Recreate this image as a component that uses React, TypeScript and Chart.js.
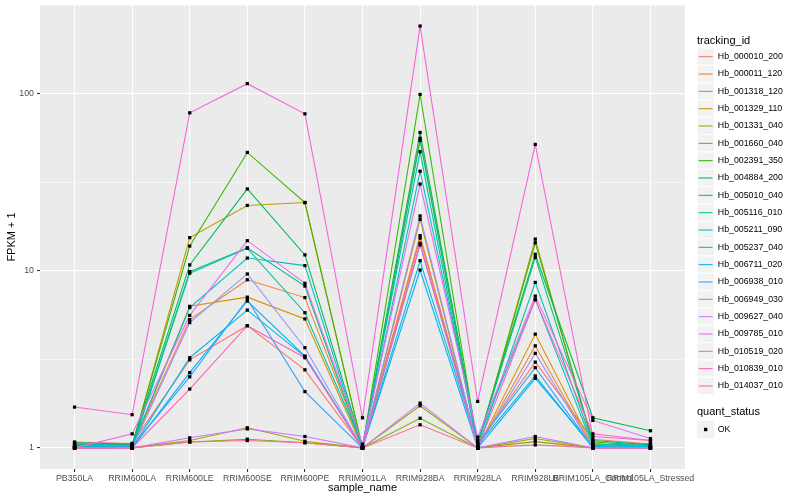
import React, { useEffect, useRef } from "react";
import { Chart, registerables } from "chart.js";

Chart.register(...registerables);

const CATEGORIES = [
  "PB350LA", "RRIM600LA", "RRIM600LE", "RRIM600SE", "RRIM600PE", "RRIM901LA",
  "RRIM928BA", "RRIM928LA", "RRIM928LB", "RRIM105LA_Control", "RRIM105LA_Stressed",
];

const Y_TICKS = [1, 10, 100];
const Y_MINOR = [3.1623, 31.623, 316.23];

const SERIES_NAMES = [
  "Hb_000010_200", "Hb_000011_120", "Hb_001318_120", "Hb_001329_110", "Hb_001331_040",
  "Hb_001660_040", "Hb_002391_350", "Hb_004884_200", "Hb_005010_040", "Hb_005116_010",
  "Hb_005211_090", "Hb_005237_040", "Hb_006711_020", "Hb_006938_010", "Hb_006949_030",
  "Hb_009627_040", "Hb_009785_010", "Hb_010519_020", "Hb_010839_010", "Hb_014037_010",
];

const SERIES_COLORS = [
  "#F8766D", "#EA8331", "#D89000", "#C09B00", "#A3A500", "#7CAE00", "#39B600", "#00BB4E",
  "#00BF7D", "#00C1A3", "#00BFC4", "#00BAE0", "#00B0F6", "#35A2FF", "#9590FF", "#C77CFF",
  "#E76BF3", "#FA62DB", "#FF62BC", "#FF6C91",
];

// FPKM + 1 values per sample, in CATEGORIES order
const HB_000010_200 = [1.08, 1.06, 3.14, 4.9, 2.76, 1.0, 15.3, 1.05, 3.05, 1.12, 1.05];
const HB_000011_120 = [1.02, 1.03, 5.3, 8.9, 7.06, 1.02, 15.8, 1.0, 3.77, 1.0, 1.0];
const HB_001318_120 = [1.0, 1.0, 6.3, 7.1, 5.35, 1.0, 19.5, 1.0, 4.39, 1.02, 1.0];
const HB_001329_110 = [1.0, 1.02, 15.4, 23.4, 24.3, 1.0, 56, 1.02, 15.1, 1.05, 1.02];
const HB_001331_040 = [1.0, 1.0, 1.1, 1.3, 1.09, 1.0, 1.73, 1.0, 1.13, 1.0, 1.0];
const HB_001660_040 = [1.0, 1.0, 1.08, 1.12, 1.07, 1.0, 1.47, 1.0, 1.085, 1.0, 1.0];
const HB_002391_350 = [1.05, 1.04, 13.8, 46.6, 24.3, 1.0, 99, 1.03, 14.4, 1.08, 1.03];
const HB_004884_200 = [1.07, 1.05, 10.8, 29, 12.3, 1.02, 60.4, 1.08, 12.4, 1.48, 1.25];
const HB_005010_040 = [1.03, 1.02, 9.9, 13.5, 8.2, 1.0, 54.4, 1.05, 11.9, 1.1, 1.04];
const HB_005116_010 = [1.04, 1.0, 9.7, 13.4, 5.8, 1.03, 47, 1.0, 8.6, 1.06, 1.0];
const HB_005211_090 = [1.06, 1.03, 6.2, 11.8, 10.7, 1.0, 36.5, 1.1, 6.9, 1.03, 1.06];
const HB_005237_040 = [1.02, 1.0, 3.23, 6.0, 3.28, 1.0, 11.4, 1.04, 2.55, 1.0, 1.02];
const HB_006711_020 = [1.0, 1.0, 2.66, 6.75, 3.3, 1.0, 10.1, 1.0, 2.47, 1.02, 1.0];
const HB_006938_010 = [1.0, 1.02, 2.52, 6.9, 2.08, 1.0, 14.0, 1.06, 2.84, 1.0, 1.0];
const HB_006949_030 = [1.0, 1.0, 5.1, 9.6, 3.68, 1.0, 20.4, 1.0, 3.42, 1.0, 1.0];
const HB_009627_040 = [1.0, 1.0, 1.14, 1.28, 1.16, 1.0, 1.79, 1.0, 1.16, 1.0, 1.0];
const HB_009785_010 = [1.0, 1.2, 5.6, 14.8, 8.5, 1.05, 30.9, 1.15, 7.2, 1.43, 1.13];
const HB_010519_020 = [1.7, 1.54, 78, 114, 77, 1.48, 241, 1.83, 51.7, 1.16, 1.1];
const HB_010839_010 = [1.0, 1.0, 2.15, 4.9, 3.23, 1.0, 14.3, 1.0, 6.85, 1.2, 1.1];
const HB_014037_010 = [1.0, 1.0, 1.08, 1.1, 1.07, 1.0, 1.35, 1.0, 1.04, 1.0, 1.0];

const SERIES_VALUES = [
  HB_000010_200, HB_000011_120, HB_001318_120, HB_001329_110, HB_001331_040,
  HB_001660_040, HB_002391_350, HB_004884_200, HB_005010_040, HB_005116_010,
  HB_005211_090, HB_005237_040, HB_006711_020, HB_006938_010, HB_006949_030,
  HB_009627_040, HB_009785_010, HB_010519_020, HB_010839_010, HB_014037_010,
];

const QUANT_STATUS = ["OK"];

const FONT = '"Liberation Sans", Arial, Helvetica, sans-serif';

const decorPlugin = {
  id: "decor",
  beforeDraw(chart: any) {
    const { ctx, chartArea: a } = chart;
    ctx.save();
    ctx.fillStyle = "#FFFFFF";
    ctx.fillRect(0, 0, chart.width, chart.height);
    ctx.fillStyle = "#EBEBEB";
    ctx.fillRect(a.left, a.top, a.right - a.left, a.bottom - a.top);
    ctx.restore();
  },
  afterDraw(chart: any) {
    const { ctx, chartArea: a } = chart;
    ctx.save();
    ctx.fillStyle = "#000000";
    ctx.font = `11px ${FONT}`;
    ctx.textAlign = "center";
    ctx.textBaseline = "middle";
    ctx.fillText("sample_name", (a.left + a.right) / 2, 488);
    ctx.save();
    ctx.translate(12, (a.top + a.bottom) / 2);
    ctx.rotate(-Math.PI / 2);
    ctx.fillText("FPKM + 1", 0, 0);
    ctx.restore();

    const lx = 697;
    const key = 17.28;
    ctx.textAlign = "left";
    ctx.font = `11px ${FONT}`;
    ctx.fillText("tracking_id", lx, 41);
    ctx.font = `8.8px ${FONT}`;
    SERIES_NAMES.forEach((name, i) => {
      const cy = 56.7 + i * 17.33;
      ctx.fillStyle = "#F2F2F2";
      ctx.fillRect(lx, cy - key / 2, key, key);
      ctx.strokeStyle = "#FFFFFF";
      ctx.lineWidth = 1;
      ctx.strokeRect(lx, cy - key / 2, key, key);
      ctx.strokeStyle = SERIES_COLORS[i];
      ctx.lineWidth = 1.07;
      ctx.beginPath();
      ctx.moveTo(lx + 1.7, cy);
      ctx.lineTo(lx + key - 1.7, cy);
      ctx.stroke();
      ctx.fillStyle = "#000000";
      ctx.fillText(name, lx + key + 3.5, cy);
    });
    ctx.font = `11px ${FONT}`;
    ctx.fillText("quant_status", lx, 412);
    ctx.font = `8.8px ${FONT}`;
    QUANT_STATUS.forEach((name, i) => {
      const cy = 429.5 + i * 17.33;
      ctx.fillStyle = "#F2F2F2";
      ctx.fillRect(lx, cy - key / 2, key, key);
      ctx.fillStyle = "#000000";
      ctx.fillRect(lx + key / 2 - 1.7, cy - 1.7, 3.4, 3.4);
      ctx.fillText(name, lx + key + 3.5, cy);
    });
    ctx.restore();
  },
};

export default function App() {
  const ref = useRef<HTMLCanvasElement | null>(null);

  useEffect(() => {
    if (!ref.current) return;
    const n = SERIES_VALUES.length;
    const lineSets = SERIES_VALUES.map((vals, i) => ({
      label: SERIES_NAMES[i],
      data: vals.map((v, j) => ({ x: j, y: v })),
      borderColor: SERIES_COLORS[i],
      backgroundColor: SERIES_COLORS[i],
      borderWidth: 1.07,
      pointRadius: 0,
      tension: 0,
      fill: false,
      order: n - i + 1,
    }));
    const pointSets = SERIES_VALUES.map((vals, i) => ({
      label: SERIES_NAMES[i] + " pts",
      data: vals.map((v, j) => ({ x: j, y: v })),
      showLine: false,
      pointRadius: 2.3,
      pointStyle: "rect",
      pointBackgroundColor: "#000000",
      pointBorderWidth: 0,
      borderColor: "#000000",
      order: -1,
    }));

    const chart = new Chart(ref.current, {
      type: "line",
      data: { datasets: [...lineSets, ...pointSets] as any },
      options: {
        animation: false,
        responsive: false,
        devicePixelRatio: 1,
        layout: { padding: { left: 0, top: 5, right: 115, bottom: 0 } },
        plugins: { legend: { display: false }, tooltip: { enabled: false } },
        scales: {
          x: {
            type: "linear",
            min: -0.6,
            max: 10.6,
            afterBuildTicks: (scale: any) => {
              scale.ticks = CATEGORIES.map((_, i) => ({ value: i }));
            },
            afterFit: (scale: any) => {
              scale.height = 31;
              scale.paddingLeft = 0;
              scale.paddingRight = 0;
            },
            border: { display: false },
            grid: {
              color: "#FFFFFF",
              lineWidth: 1.07,
              tickColor: "#333333",
              tickLength: 3,
              drawTicks: true,
            },
            ticks: {
              autoSkip: false,
              maxRotation: 0,
              minRotation: 0,
              padding: 1,
              color: "#4D4D4D",
              font: { family: FONT, size: 8.8 },
              callback: (v: any) => CATEGORIES[Math.round(v)] ?? "",
            },
          },
          y: {
            type: "logarithmic",
            min: 0.76,
            max: 317,
            afterBuildTicks: (scale: any) => {
              const all = [...Y_TICKS, ...Y_MINOR].sort((p, q) => p - q);
              scale.ticks = all.map((v) => ({ value: v }));
            },
            afterFit: (scale: any) => {
              scale.width = 40;
              scale.paddingTop = 0;
              scale.paddingBottom = 0;
            },
            border: { display: false },
            grid: {
              color: "#FFFFFF",
              lineWidth: (c: any) => (Y_TICKS.includes(c.tick?.value) ? 1.07 : 0.53),
              tickColor: (c: any) => (Y_TICKS.includes(c.tick?.value) ? "#333333" : "rgba(0,0,0,0)"),
              tickLength: 3,
              drawTicks: true,
            },
            ticks: {
              padding: 3,
              color: "#4D4D4D",
              font: { family: FONT, size: 8.8 },
              callback: (v: any) => (Y_TICKS.includes(v) ? String(v) : ""),
            },
          },
        },
      },
      plugins: [decorPlugin],
    });
    return () => chart.destroy();
  }, []);

  return (
    <div style={{ position: "absolute", left: 0, top: 0, width: 800, height: 500 }}>
      <canvas ref={ref} width={800} height={500} style={{ width: 800, height: 500 }} />
    </div>
  );
}
